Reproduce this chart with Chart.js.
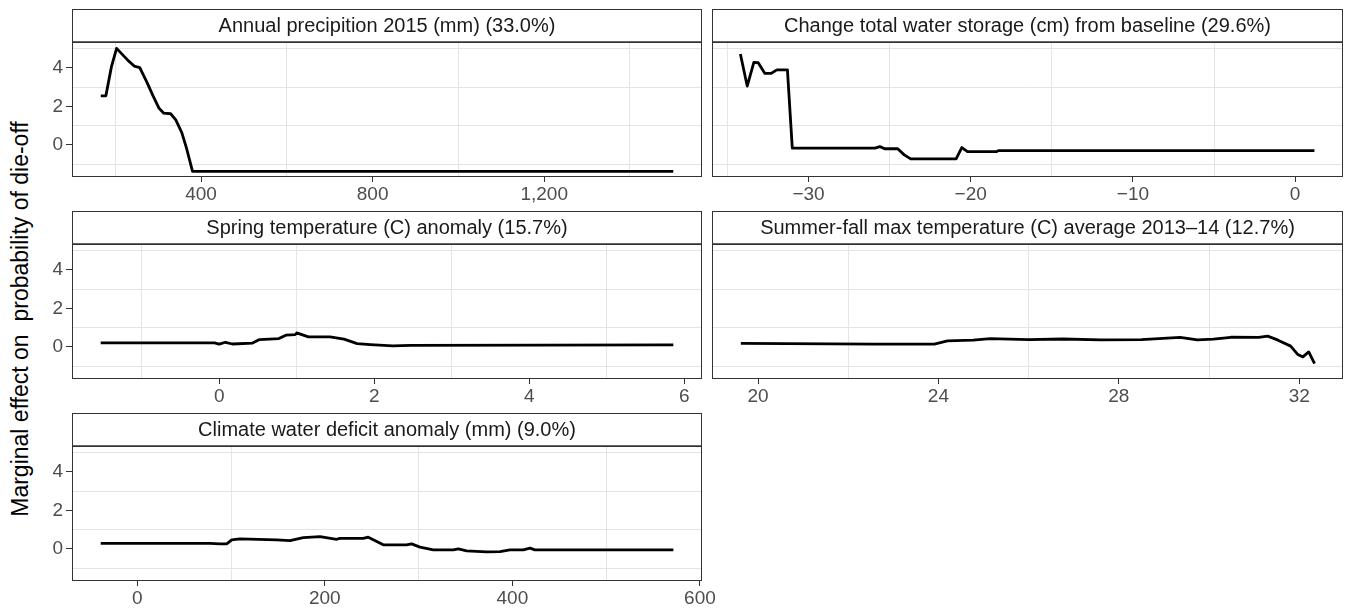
<!DOCTYPE html>
<html>
<head>
<meta charset="utf-8">
<title>Marginal effects</title>
<script src="https://cdn.jsdelivr.net/npm/chart.js@4.4.0/dist/chart.umd.min.js"></script>
<style>
    html, body { margin: 0; padding: 0; background: #ffffff; }
    body {
        position: relative;
        width: 1346px;
        height: 609px;
        overflow: hidden;
        font-family: "Liberation Sans", Arial, sans-serif;
    }
    canvas { position: absolute; }
    #yTitle {
        position: absolute;
        left: 20px;
        top: 319px;
        transform: translate(-50%, -50%) rotate(-90deg);
        white-space: pre;
        font-size: 23px;
        color: #000000;
    }
</style>
</head>
<body>
<div id="yTitle">Marginal effect on  probability of die-off</div>
<canvas id="precipChart"></canvas>
<canvas id="twsChart"></canvas>
<canvas id="springChart"></canvas>
<canvas id="summerChart"></canvas>
<canvas id="cwdChart"></canvas>

<script>
// ---- data ----

// shared y axis
const yMajor = [0, 2, 4];
const yMinor = [-1, 1, 3, 5];
const yRange = [-1.67, 5.35];

// Annual precipitation 2015 (mm)
const precipX = [166, 178, 191, 203, 214, 230, 244, 257, 273, 288, 302, 313, 329, 341, 355, 366, 380, 1501];
const precipY = [2.55, 2.55, 4.07, 5.02, 4.76, 4.38, 4.10, 4.02, 3.29, 2.55, 1.90, 1.65, 1.62, 1.30, 0.64, -0.17, -1.38, -1.38];
const precipMajor = [400, 800, 1200];
const precipMinor = [200, 600, 1000, 1400];
const precipRange = [99, 1568];

// Change total water storage (cm)
const twsX = [-34.2, -33.78, -33.37, -33.1, -32.7, -32.3, -31.95, -31.3, -31.0, -25.9, -25.6, -25.3, -24.5, -24.1, -23.7, -20.9, -20.55, -20.2, -18.4, -18.3, 1.19];
const twsY = [4.73, 3.06, 4.29, 4.27, 3.72, 3.72, 3.9, 3.9, -0.17, -0.17, -0.09, -0.2, -0.2, -0.52, -0.73, -0.73, -0.14, -0.35, -0.35, -0.30, -0.30];
const twsMajor = [-30, -20, -10, 0];
const twsMinor = [-35, -25, -15, -5];
const twsRange = [-35.95, 2.95];

// Spring temperature anomaly (C)
const springX = [-1.53, -0.06, 0.0, 0.08, 0.17, 0.43, 0.52, 0.77, 0.86, 0.98, 1.00, 1.15, 1.43, 1.61, 1.78, 1.95, 2.24, 2.47, 5.86];
const springY = [0.21, 0.21, 0.14, 0.24, 0.15, 0.20, 0.38, 0.43, 0.61, 0.64, 0.73, 0.52, 0.52, 0.40, 0.17, 0.12, 0.05, 0.08, 0.10];
const springMajor = [0, 2, 4, 6];
const springMinor = [-1, 1, 3, 5];
const springRange = [-1.90, 6.23];

// Summer-fall max temperature (C)
const summerX = [19.62, 22.6, 23.91, 24.2, 24.77, 25.15, 26.0, 26.76, 27.6, 28.5, 29.36, 29.74, 30.1, 30.48, 31.1, 31.3, 31.53, 31.81, 31.96, 32.08, 32.21, 32.34];
const summerY = [0.18, 0.14, 0.14, 0.31, 0.35, 0.43, 0.38, 0.41, 0.36, 0.38, 0.49, 0.36, 0.40, 0.50, 0.49, 0.56, 0.35, 0.04, -0.38, -0.52, -0.26, -0.87];
const summerMajor = [20, 24, 28, 32];
const summerMinor = [22, 26, 30];
const summerRange = [18.98, 32.97];

// Climate water deficit anomaly (mm)
const cwdX = [-39, 77.6, 88, 95.4, 100.7, 109.5, 148.6, 162.9, 177, 194.9, 212.6, 216, 241, 246.3, 262.3, 287.2, 292.5, 301.5, 315.7, 337, 342.4, 351.2, 372.5, 386.8, 397.4, 411.6, 418.8, 424, 571.7];
const cwdY = [0.29, 0.29, 0.26, 0.26, 0.47, 0.52, 0.47, 0.43, 0.59, 0.64, 0.50, 0.55, 0.55, 0.61, 0.21, 0.21, 0.26, 0.09, -0.05, -0.05, 0.0, -0.1, -0.16, -0.14, -0.05, -0.05, 0.04, -0.05, -0.05];
const cwdMajor = [0, 200, 400, 600];
const cwdMinor = [100, 300, 500];
const cwdRange = [-69.6, 602.2];

// ---- layout / style ----
const FONT = "'Liberation Sans', Arial, Helvetica, sans-serif";
const FIRST_TOP = 9;
const ROW_PITCH = 202;
const STRIP_H = 33;
const PLOT_H = 135;
const X_AXIS_H = 28;
const GRID = "#e4e4e4";
const TICK = "#333333";
const TEXT = "#4d4d4d";

const COLS = [
    { canvasLeft: 16, plotLeft: 72, plotRight: 702, padRight: 20, yLabels: true },
    { canvasLeft: 700, plotLeft: 712, plotRight: 1343, padRight: 3, yLabels: false }
];

// minus sign like R prints it
function fmtNum(v) {
    const s = Math.abs(v).toLocaleString("en-US");
    return v < 0 ? "\u2212" + s : s;
}

// strip header + panel border, ggplot style
const stripPlugin = {
    id: "strip",
    afterDraw(chart, args, opts) {
        const ctx = chart.ctx;
        const a = chart.chartArea;
        const w = a.right - a.left;
        ctx.save();
        ctx.fillStyle = "#ffffff";
        ctx.fillRect(a.left, a.top - STRIP_H, w, STRIP_H);
        ctx.strokeStyle = "#333333";
        ctx.lineWidth = 1;
        ctx.strokeRect(a.left + 0.5, a.top - STRIP_H + 0.5, w - 1, STRIP_H);
        ctx.strokeRect(a.left + 0.5, a.top + 0.5, w - 1, a.bottom - a.top - 1);
        ctx.lineWidth = 1.6;
        ctx.beginPath();
        ctx.moveTo(a.left, a.top);
        ctx.lineTo(a.right, a.top);
        ctx.stroke();
        ctx.fillStyle = "#1a1a1a";
        ctx.font = "20px " + FONT;
        ctx.textAlign = "center";
        ctx.textBaseline = "middle";
        ctx.fillText(opts.text, (a.left + a.right) / 2, a.top - STRIP_H / 2 + 1);
        ctx.restore();
    }
};

function buildPanel(p) {
    const col = COLS[p.col];
    const top = FIRST_TOP + p.row * ROW_PITCH;
    const canvas = document.getElementById(p.id);
    const width = col.plotRight + col.padRight - col.canvasLeft;
    const height = STRIP_H + PLOT_H + X_AXIS_H;
    canvas.width = width;
    canvas.height = height;
    canvas.style.left = col.canvasLeft + "px";
    canvas.style.top = top + "px";
    canvas.style.width = width + "px";
    canvas.style.height = height + "px";

    const xTicks = p.xMajor.concat(p.xMinor).sort((a, b) => a - b);
    const yTicks = yMajor.concat(yMinor).sort((a, b) => a - b);
    const points = p.xs.map((x, i) => ({ x: x, y: p.ys[i] }));

    new Chart(canvas.getContext("2d"), {
        type: "line",
        data: {
            datasets: [{
                data: points,
                borderColor: "#000000",
                borderWidth: 2.8,
                borderJoinStyle: "round",
                pointRadius: 0,
                tension: 0,
                fill: false
            }]
        },
        options: {
            responsive: false,
            animation: false,
            devicePixelRatio: 1,
            layout: { padding: { top: STRIP_H, right: col.padRight, left: 0, bottom: 0 } },
            plugins: {
                legend: { display: false },
                tooltip: { enabled: false },
                strip: { text: p.title }
            },
            scales: {
                x: {
                    type: "linear",
                    min: p.xRange[0],
                    max: p.xRange[1],
                    afterBuildTicks: (s) => { s.ticks = xTicks.map(v => ({ value: v })); },
                    afterFit: (s) => { s.height = X_AXIS_H; },
                    border: { display: false },
                    grid: {
                        lineWidth: 1,
                        tickLength: 5,
                        color: (c) => (c.tick && p.xMinor.includes(c.tick.value)) ? GRID : "rgba(0,0,0,0)",
                        tickColor: (c) => (c.tick && p.xMajor.includes(c.tick.value)) ? TICK : "rgba(0,0,0,0)"
                    },
                    ticks: {
                        autoSkip: false,
                        maxRotation: 0,
                        padding: 1,
                        color: TEXT,
                        font: { family: FONT, size: 19 },
                        callback: (v) => p.xMajor.includes(v) ? fmtNum(v) : ""
                    }
                },
                y: {
                    type: "linear",
                    min: yRange[0],
                    max: yRange[1],
                    afterBuildTicks: (s) => { s.ticks = yTicks.map(v => ({ value: v })); },
                    afterFit: (s) => { s.width = col.plotLeft - col.canvasLeft; },
                    border: { display: false },
                    grid: {
                        lineWidth: 1,
                        tickLength: 6,
                        color: (c) => (c.tick && yMinor.includes(c.tick.value)) ? GRID : "rgba(0,0,0,0)",
                        tickColor: (c) => (col.yLabels && c.tick && yMajor.includes(c.tick.value)) ? TICK : "rgba(0,0,0,0)"
                    },
                    ticks: {
                        autoSkip: false,
                        padding: 3,
                        color: TEXT,
                        font: { family: FONT, size: 19 },
                        callback: (v) => (col.yLabels && yMajor.includes(v)) ? fmtNum(v) : ""
                    }
                }
            }
        },
        plugins: [stripPlugin]
    });
}

window.addEventListener("load", () => {
    buildPanel({ id: "precipChart", col: 0, row: 0, title: "Annual precipition 2015 (mm) (33.0%)",
        xs: precipX, ys: precipY, xMajor: precipMajor, xMinor: precipMinor, xRange: precipRange });
    buildPanel({ id: "twsChart", col: 1, row: 0, title: "Change total water storage (cm) from baseline (29.6%)",
        xs: twsX, ys: twsY, xMajor: twsMajor, xMinor: twsMinor, xRange: twsRange });
    buildPanel({ id: "springChart", col: 0, row: 1, title: "Spring temperature (C) anomaly (15.7%)",
        xs: springX, ys: springY, xMajor: springMajor, xMinor: springMinor, xRange: springRange });
    buildPanel({ id: "summerChart", col: 1, row: 1, title: "Summer-fall max temperature (C) average 2013\u201314 (12.7%)",
        xs: summerX, ys: summerY, xMajor: summerMajor, xMinor: summerMinor, xRange: summerRange });
    buildPanel({ id: "cwdChart", col: 0, row: 2, title: "Climate water deficit anomaly (mm) (9.0%)",
        xs: cwdX, ys: cwdY, xMajor: cwdMajor, xMinor: cwdMinor, xRange: cwdRange });
});
</script>
</body>
</html>
